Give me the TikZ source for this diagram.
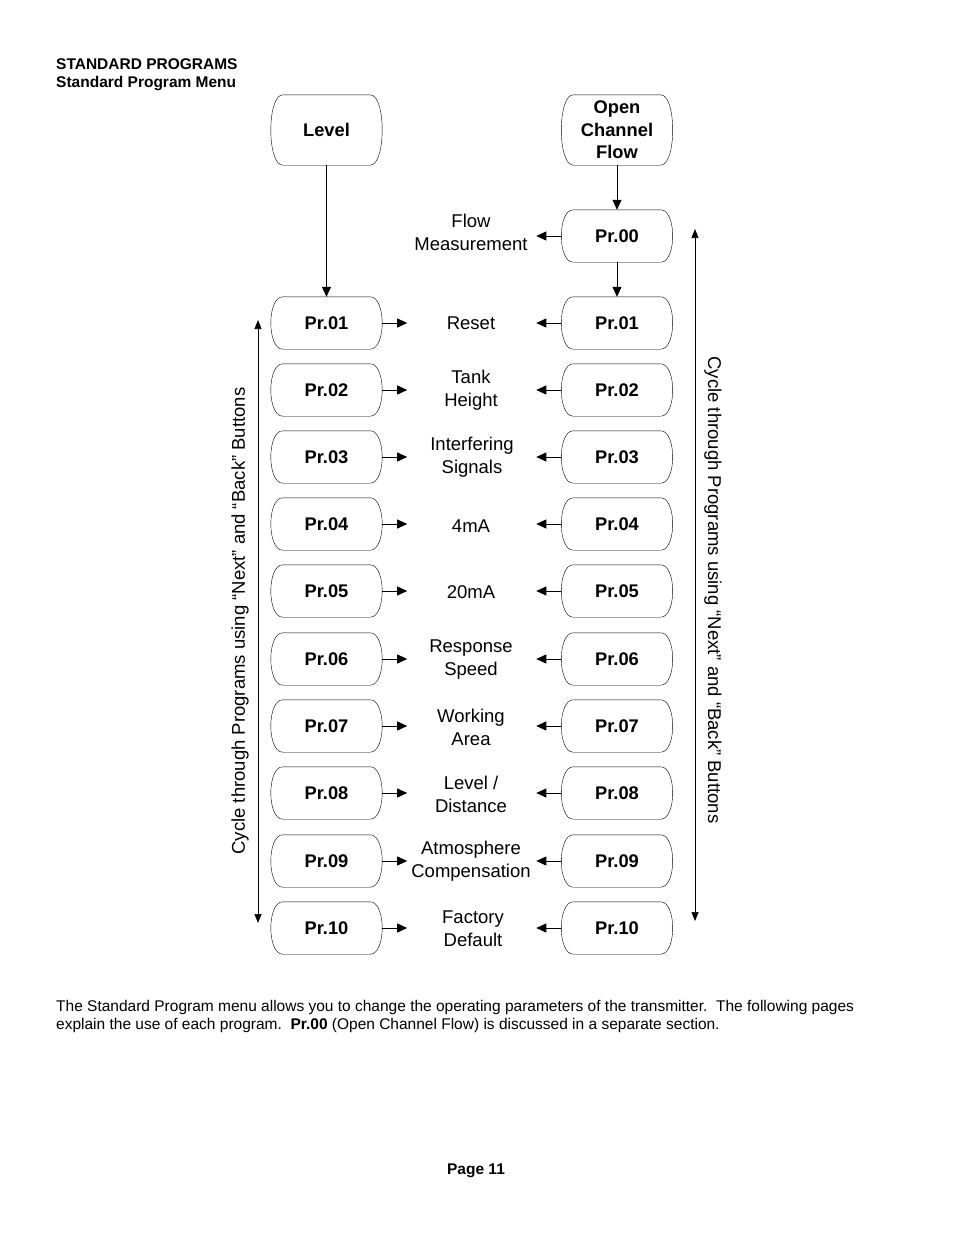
\documentclass[tikz,border=0pt]{standalone}
\usepackage{fontspec}
\setmainfont{Liberation Sans}
\usetikzlibrary{arrows.meta,calc}
\newcommand\boxoutline[1]{%
  \draw ([xshift=-12pt]#1.north east) .. controls ([xshift=-4pt]#1.north east) and ($(#1.north east)!0.5!(#1.east)$) .. (#1.east)
     .. controls ($(#1.south east)!0.5!(#1.east)$) and ([xshift=-4pt]#1.south east) .. ([xshift=-12pt]#1.south east)
     -- ([xshift=12pt]#1.south west)
     .. controls ([xshift=4pt]#1.south west) and ($(#1.south west)!0.5!(#1.west)$) .. (#1.west)
     .. controls ($(#1.north west)!0.5!(#1.west)$) and ([xshift=4pt]#1.north west) .. ([xshift=12pt]#1.north west)
     -- cycle;}
\newcommand\nl{\\}
\begin{document}
\begin{tikzpicture}[x=1pt,y=-1pt,
  prbox/.style={minimum width=111pt,minimum height=52pt,inner sep=0pt,align=center,font=\bfseries\fontsize{18.3}{22.5}\selectfont},
  topbox/.style={prbox,minimum height=70pt},
  lbl/.style={align=center,inner sep=0pt,font=\fontsize{18.5}{23}\selectfont},
  arr/.style={-{Triangle[length=10pt,width=9pt]},line width=0.7pt},
  cyc/.style={{Triangle[length=9pt,width=7pt]}-{Triangle[length=9pt,width=7pt]},line width=0.7pt},
  hdr/.style={anchor=base west,inner sep=0pt,font=\bfseries\fontsize{15.5}{17}\selectfont},
  body/.style={anchor=base west,inner sep=0pt,font=\fontsize{15.5}{17}\selectfont}]
\useasboundingbox (0,0) rectangle (954,1235);
\node[hdr] (h1) at (56,69) {STANDARD PROGRAMS};
\node[hdr] (h2) at (56,87) {Standard Program Menu};

\node[topbox] (lev) at (326.5,130) {Level};
\node[topbox] (ocf) at (617,130) {Open\\Channel\\Flow};
\node[prbox] (r0) at (617,236) {Pr.00};
\node[lbl] (m0) at (471,232) {Flow\\Measurement};
\boxoutline{lev}
\boxoutline{ocf}
\boxoutline{r0}
\draw[arr] (ocf.south) -- (r0.north);
\draw[arr] (r0.west) -- ++(-25,0) coordinate (m0a);

\foreach \i/\y/\t/\mx/\my in {
  01/323/{Reset}/471/323,
  02/390/{Tank\nl Height}/471/390,
  03/457/{Interfering\nl Signals}/472/457,
  04/524/{4mA}/471/526,
  05/591/{20mA}/471/592,
  06/659/{Response\nl Speed}/471/660,
  07/726/{Working\nl Area}/471/727,
  08/793/{Level /\nl Distance}/471/794,
  09/861/{Atmosphere\nl Compensation}/471/861,
  10/928/{Factory\nl Default}/473/929}{
  \node[prbox] (l\i) at (326.5,\y) {Pr.\i};
  \node[prbox] (r\i) at (617,\y) {Pr.\i};
  \node[lbl] (m\i) at (\mx,\my) {\t};
  \boxoutline{l\i}
  \boxoutline{r\i}
  \draw[arr] (l\i.east) -- ++(25,0);
  \draw[arr] (r\i.west) -- ++(-25,0);
}
\draw[arr] (lev.south) -- (l01.north);
\draw[arr] (r0.south) -- (r01.north);

\coordinate (lt) at (258,320);
\coordinate (lb) at (258,923);
\coordinate (rt) at (695,229);
\coordinate (rb) at (695,921);
\draw[cyc] (lt) -- (lb);
\draw[cyc] (rt) -- (rb);
\node[lbl,rotate=90] (cl) at (240,621) {Cycle through Programs using “Next” and “Back” Buttons};
\node[lbl,rotate=-90] (cr) at (713,590) {Cycle through Programs using “Next” and “Back” Buttons};

\node[body] (b1) at (56,1011) {The Standard Program menu allows you to change the operating parameters of the transmitter.\ \ The following pages};
\node[body] (b2) at (56,1029) {explain the use of each program.\ \ \textbf{Pr.00} (Open Channel Flow) is discussed in a separate section.};
\node[hdr,anchor=base] (pg) at (476,1174) {Page 11};
\end{tikzpicture}
\end{document}
